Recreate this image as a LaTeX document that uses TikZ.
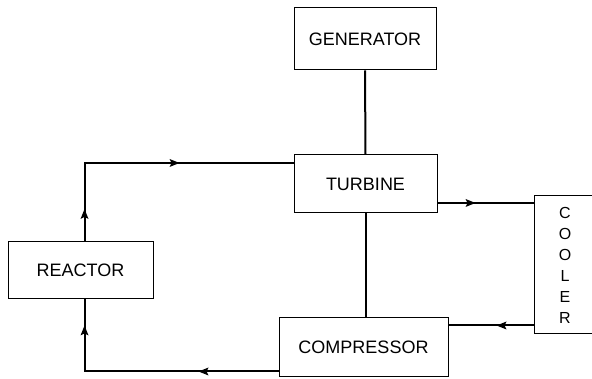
\documentclass[tikz,border=0pt]{standalone}
\usepackage{fontspec}
\setmainfont{Liberation Sans}
\usetikzlibrary{decorations.markings}
\tikzset{
	unit/.style={draw,line width=1pt,inner sep=0pt,font=\fontsize{18}{21}\selectfont},
	pipe/.style={line width=2pt},
	arrowat/.style={postaction={decorate,decoration={markings,mark=at position #1 with {\fill (5pt,0pt) -- (-5pt,4pt) -- (-3pt,0pt) -- (-5pt,-4pt) -- cycle;}}}}
}
\begin{document}
\begin{tikzpicture}[x=1pt,y=-1pt]
		\useasboundingbox (0,0) rectangle (592,379);
		\node[unit,minimum width=142pt,minimum height=62pt] (gen) at (365,39) {GENERATOR};
		\node[unit,minimum width=143pt,minimum height=58pt] (tur) at (365.5,184) {TURBINE};
		\node[unit,minimum width=145pt,minimum height=57pt] (reac) at (80.5,270) {REACTOR};
		\node[unit,minimum width=169pt,minimum height=59pt] (comp) at (363.5,347.5) {COMPRESSOR};
		\node[unit,minimum width=62pt,minimum height=138pt,align=center,font=\fontsize{16}{21}\selectfont] (cool) at (565,265) {C\\O\\O\\L\\E\\R};
		\draw[pipe] (gen.south) to (tur.north);
		\draw[pipe] (tur.south) to (tur.south |- comp.north);
		\draw[pipe,arrowat=27pt,arrowat=168pt] ([xshift=4pt]reac.north) |- ([yshift=21pt]tur.west);
		\coordinate (t1) at ([yshift=-19pt]tur.east);
		\draw[pipe,arrowat=33pt] (t1) to (t1 -| cool.west);
		\coordinate (c1) at ([yshift=22pt]comp.east);
		\draw[pipe,arrowat=32pt] (c1 -| cool.west) to (c1);
		\draw[pipe,arrowat=75pt,arrowat=235pt] ([yshift=-24pt]comp.west) -| ([xshift=4pt]reac.south);
\end{tikzpicture}
\end{document}
